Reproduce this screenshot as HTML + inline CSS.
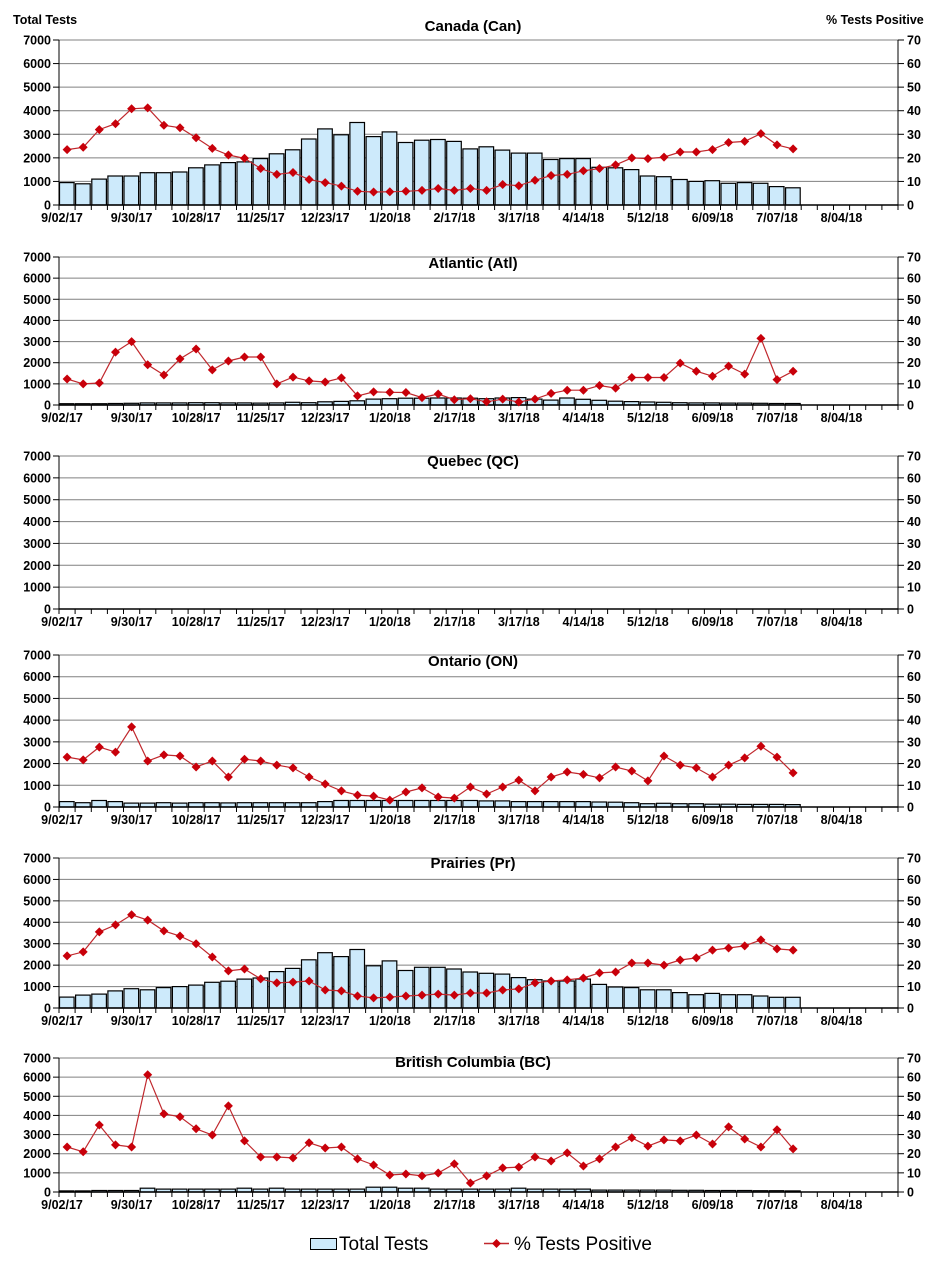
<!DOCTYPE html>
<html><head><meta charset="utf-8"><style>
html,body{margin:0;padding:0;background:#fff;}
svg{display:block;font-family:"Liberation Sans",Arial,sans-serif;}
</style></head><body>
<svg id="s" width="944" height="1265" viewBox="0 0 944 1265" xmlns="http://www.w3.org/2000/svg"></svg>
<script>
var P=[
{t:"Canada (Can)",y0:205,y7:40,ty:31,
b:[950,900,1100,1230,1230,1370,1370,1400,1580,1700,1800,1830,1970,2170,2340,2800,3230,2980,3500,2900,3100,2650,2750,2780,2700,2380,2470,2330,2200,2200,1930,1970,1970,1600,1580,1500,1230,1200,1080,1000,1030,920,950,920,780,730],
l:[23.5,24.5,32,34.5,40.8,41.2,33.8,32.8,28.5,24,21.2,19.8,15.5,13,13.8,10.8,9.5,8,5.8,5.5,5.6,5.8,6.2,7,6.2,7,6.2,8.7,8.2,10.5,12.5,13,14.5,15.5,17,20,19.7,20.3,22.5,22.5,23.5,26.5,27,30.3,25.5,23.8]},
{t:"Atlantic (Atl)",y0:405,y7:257,ty:268,
b:[60,60,60,70,80,100,100,100,110,110,100,100,90,100,130,110,150,170,200,280,300,320,320,330,330,320,300,330,350,280,230,330,270,220,180,160,140,130,110,100,100,90,90,80,70,70],
l:[12.3,10,10.4,25,30,19,14.2,21.8,26.5,16.6,20.8,22.7,22.7,10,13.2,11.4,10.9,12.8,4.3,6.2,6,5.9,3.5,5.2,2.5,3,1.5,2.8,1.4,2.8,5.5,7,7,9.2,8,13,13,13,19.8,16,13.6,18.4,14.6,31.5,12,16]},
{t:"Quebec (QC)",y0:609,y7:456,ty:466,b:[],l:[]},
{t:"Ontario (ON)",y0:807,y7:655,ty:666,
b:[250,200,300,250,180,180,200,180,200,200,190,200,200,200,200,200,250,300,300,300,300,300,300,300,300,300,280,280,250,250,250,250,250,230,220,200,150,170,150,150,130,130,120,120,120,110],
l:[23,21.7,27.6,25.3,36.9,21.2,24,23.5,18.4,21.2,13.8,22,21.2,19.3,18,13.8,10.6,7.4,5.5,5,3.2,6.9,8.8,4.6,4.1,9.2,6,9.2,12.4,7.4,13.8,16.1,15,13.4,18.4,16.6,12,23.5,19.3,18,13.8,19.3,22.6,28,23,15.7]},
{t:"Prairies (Pr)",y0:1008,y7:858,ty:868,
b:[510,600,650,800,900,850,950,1000,1070,1200,1250,1350,1400,1700,1850,2250,2580,2400,2730,1970,2200,1750,1900,1900,1820,1680,1620,1580,1420,1320,1260,1260,1350,1100,980,950,850,850,720,620,680,620,620,560,500,500],
l:[24.3,26.2,35.5,38.8,43.5,41,36,33.6,30,23.8,17.3,18.2,13.6,11.7,12.1,12.6,8.4,8,5.6,4.7,5.1,5.6,6,6.5,6,7,7,8.4,8.9,11.7,12.6,13.1,14,16.4,16.8,21,21,20,22.4,23.4,27,28,29,31.8,27.6,27]},
{t:"British Columbia (BC)",y0:1192,y7:1058,ty:1067,
b:[60,60,80,80,80,200,150,150,150,150,150,200,150,200,150,150,150,150,150,250,250,200,200,150,150,150,150,150,200,150,150,150,150,100,100,100,100,100,90,90,80,80,80,70,70,60],
l:[23.5,21,35,24.6,23.5,61.2,40.8,39.3,33,29.8,45,26.7,18.3,18.3,17.8,25.7,23,23.5,17.3,14.1,8.9,9.4,8.4,9.9,14.7,4.7,8.4,12.6,13,18.3,16.2,20.4,13.6,17.3,23.5,28.3,24,27.2,26.7,29.8,25.1,34,27.7,23.5,32.5,22.5]}
];
var X0=59,X1=898,N=52,W=(X1-X0)/N;
var o='<text x="13" y="24" font-size="12.5" font-weight="bold">Total Tests</text><text x="826" y="24" font-size="12.5" font-weight="bold">% Tests Positive</text>';
var dates=["9/02/17","9/30/17","10/28/17","11/25/17","12/23/17","1/20/18","2/17/18","3/17/18","4/14/18","5/12/18","6/09/18","7/07/18","8/04/18"];
P.forEach(function(p){
 var h=p.y0-p.y7, st=h/7;
 for(var k=0;k<=7;k++){var y=p.y0-k*st;
  if(k>0)o+='<line x1="'+X0+'" x2="'+X1+'" y1="'+y+'" y2="'+y+'" stroke="#808080" stroke-width="1"/>';
  o+='<line x1="53" x2="'+X0+'" y1="'+y+'" y2="'+y+'" stroke="#000"/>';
  o+='<line x1="'+X1+'" x2="904" y1="'+y+'" y2="'+y+'" stroke="#000"/>';
  o+='<text x="51" y="'+(y+4.5)+'" font-size="12.5" font-weight="bold" text-anchor="end">'+(k*1000)+'</text>';
  o+='<text x="907" y="'+(y+4.5)+'" font-size="12.5" font-weight="bold">'+(k*10)+'</text>';}
 p.b.forEach(function(v,i){var bh=v/7000*h;var x=X0+i*W+0.5;
  o+='<rect x="'+x.toFixed(1)+'" y="'+(p.y0-bh).toFixed(1)+'" width="'+(W-1.5).toFixed(1)+'" height="'+bh.toFixed(1)+'" fill="#cdeafb" stroke="#000" stroke-width="1.2"/>';});
 o+='<line x1="'+X0+'" x2="'+X0+'" y1="'+p.y7+'" y2="'+p.y0+'" stroke="#000"/>';
 o+='<line x1="'+X1+'" x2="'+X1+'" y1="'+p.y7+'" y2="'+p.y0+'" stroke="#000"/>';
 o+='<line x1="'+X0+'" x2="'+X1+'" y1="'+p.y0+'" y2="'+p.y0+'" stroke="#000" stroke-width="1.5"/>';
 for(var i=0;i<=N;i++){var x=X0+i*W;o+='<line x1="'+x.toFixed(1)+'" x2="'+x.toFixed(1)+'" y1="'+p.y0+'" y2="'+(p.y0+5)+'" stroke="#000"/>';}
 dates.forEach(function(d,j){var c=X0+(j*4+0.5)*W;if(j==0)c=62;
  o+='<text x="'+c.toFixed(1)+'" y="'+(p.y0+17)+'" font-size="12.5" font-weight="bold" text-anchor="middle">'+d+'</text>';});
 o+='<text x="473" y="'+p.ty+'" font-size="15" font-weight="bold" text-anchor="middle">'+p.t+'</text>';
 if(p.l.length){var pts=p.l.map(function(v,i){return [X0+(i+0.5)*W,p.y0-v/70*h];});
  o+='<polyline fill="none" stroke="#c0282d" stroke-width="1.2" points="'+pts.map(function(q){return q[0].toFixed(1)+','+q[1].toFixed(1)}).join(' ')+'"/>';
  pts.forEach(function(q){o+='<path d="M'+q[0].toFixed(1)+' '+(q[1]-4.5).toFixed(1)+'l4.5 4.5l-4.5 4.5l-4.5 -4.5z" fill="#c8000a"/>';});}
});
o+='<rect x="310.5" y="1238.5" width="26" height="11" fill="#cdeafb" stroke="#000"/>';
o+='<text x="339" y="1250" font-size="19">Total Tests</text>';
o+='<line x1="484" x2="509" y1="1243.5" y2="1243.5" stroke="#c0282d" stroke-width="1.5"/><path d="M496.5 1239l4.5 4.5l-4.5 4.5l-4.5 -4.5z" fill="#c8000a"/>';
o+='<text x="514" y="1250" font-size="19">% Tests Positive</text>';
document.getElementById('s').innerHTML=o;
</script>
</body></html>
